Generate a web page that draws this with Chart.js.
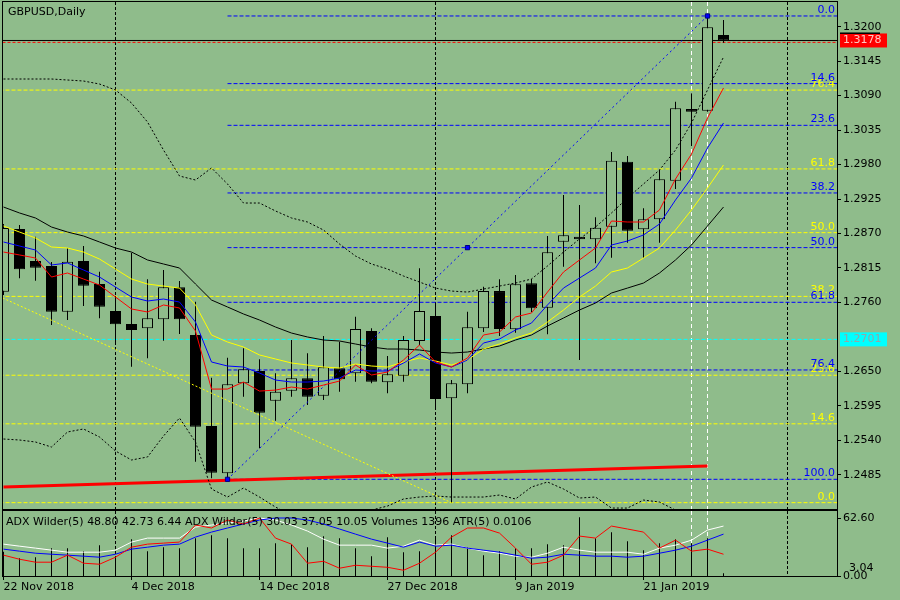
<!DOCTYPE html>
<html>
<head>
<meta charset="utf-8">
<script src="https://cdn.jsdelivr.net/npm/chart.js@4.4.1/dist/chart.umd.min.js"></script>
<style>
  html, body { margin: 0; padding: 0; background: #8fbc8b; overflow: hidden; }
  #main { position: absolute; left: 0; top: 0; }
  #sub { position: absolute; left: 0; top: 510px; }
</style>
</head>
<body>
<canvas id="main" width="900" height="510"></canvas>
<canvas id="sub" width="900" height="90"></canvas>
<script>
const BG = '#8fbc8b';

// daily bars, 22 Nov 2018 (bar 0) .. 28 Jan 2019 (bar 45)
const candleOpen = [1.27771, 1.28771, 1.28261, 1.28181, 1.27452, 1.28261, 1.27893, 1.27463, 1.27255, 1.27186,
  1.27330, 1.27841, 1.27080, 1.25628, 1.24873, 1.26308, 1.26505, 1.26031, 1.26190, 1.26388,
  1.26111, 1.26548, 1.26469, 1.27143, 1.26324, 1.26430, 1.26984, 1.27383, 1.26069, 1.26292,
  1.27186, 1.27781, 1.27170, 1.27905, 1.27516, 1.28569, 1.28649, 1.28607, 1.28808, 1.29845,
  1.28766, 1.28926, 1.29542, 1.30686, 1.30659, 1.31867];
const candleHigh = [1.28850, 1.28835, 1.28649, 1.28245, 1.28463, 1.28500, 1.28091, 1.27702, 1.28393, 1.27968,
  1.28117, 1.27941, 1.27611, 1.26398, 1.26718, 1.26868, 1.26692, 1.26469, 1.27000, 1.26787,
  1.27064, 1.26973, 1.27372, 1.27186, 1.26745, 1.27064, 1.28144, 1.27590, 1.26361, 1.27452,
  1.27850, 1.27968, 1.28037, 1.27973, 1.28660, 1.29314, 1.29154, 1.28958, 1.30000, 1.29936,
  1.29102, 1.29713, 1.30803, 1.30937, 1.32171, 1.32107];
const candleLow = [1.27720, 1.27985, 1.27946, 1.27239, 1.27319, 1.27543, 1.27346, 1.26968, 1.26574, 1.26708,
  1.26989, 1.27095, 1.25058, 1.24793, 1.24777, 1.26095, 1.25272, 1.25712, 1.26095, 1.25963,
  1.26042, 1.26174, 1.26334, 1.26308, 1.26149, 1.26334, 1.26920, 1.25883, 1.24404, 1.26149,
  1.27127, 1.27064, 1.27116, 1.27447, 1.27091, 1.28170, 1.26681, 1.28224, 1.28313, 1.28553,
  1.28313, 1.28553, 1.29410, 1.30096, 1.30643, 1.31745];
const candleClose = [1.28787, 1.28128, 1.28154, 1.27452, 1.28250, 1.27866, 1.27531, 1.27250, 1.27159, 1.27346,
  1.27841, 1.27330, 1.25617, 1.24882, 1.26292, 1.26532, 1.25840, 1.26174, 1.26388, 1.26095,
  1.26565, 1.26372, 1.27175, 1.26334, 1.26453, 1.27000, 1.27463, 1.26058, 1.26308, 1.27202,
  1.27781, 1.27175, 1.27889, 1.27506, 1.28400, 1.28671, 1.28607, 1.28792, 1.29861, 1.28744,
  1.28926, 1.29565, 1.30698, 1.30643, 1.31990, 1.31780];

// moving averages
const maRed = [1.28404, 1.28357, 1.28308, 1.28005, 1.28069, 1.27973, 1.27877, 1.27686, 1.27495, 1.27447,
  1.27559, 1.27511, 1.27143, 1.26217, 1.26217, 1.26329, 1.26185, 1.26201, 1.26249, 1.26217,
  1.26281, 1.26345, 1.26601, 1.26441, 1.26489, 1.26681, 1.26920, 1.26649, 1.26569, 1.26713,
  1.27080, 1.27127, 1.27367, 1.27431, 1.27765, 1.28085, 1.28277, 1.28468, 1.28899, 1.28883,
  1.28883, 1.29075, 1.29569, 1.29968, 1.30543, 1.31022];
const maBlue = [1.28564, 1.28500, 1.28436, 1.28197, 1.28229, 1.28117, 1.28005, 1.27845, 1.27686, 1.27622,
  1.27654, 1.27606, 1.27287, 1.26649, 1.26585, 1.26569, 1.26473, 1.26361, 1.26329, 1.26329,
  1.26345, 1.26393, 1.26521, 1.26505, 1.26505, 1.26633, 1.26777, 1.26633, 1.26569, 1.26681,
  1.26952, 1.27016, 1.27159, 1.27271, 1.27559, 1.27829, 1.27989, 1.28149, 1.28516, 1.28580,
  1.28676, 1.28851, 1.29234, 1.29585, 1.30064, 1.30463];
const maYellow = [1.28819, 1.28723, 1.28628, 1.28484, 1.28468, 1.28404, 1.28292, 1.28133, 1.27973, 1.27893,
  1.27861, 1.27829, 1.27559, 1.27080, 1.26968, 1.26888, 1.26761, 1.26697, 1.26633, 1.26601,
  1.26569, 1.26553, 1.26617, 1.26585, 1.26569, 1.26649, 1.26713, 1.26665, 1.26601, 1.26681,
  1.26856, 1.26936, 1.27032, 1.27111, 1.27287, 1.27479, 1.27686, 1.27861, 1.28085, 1.28149,
  1.28308, 1.28468, 1.28755, 1.29075, 1.29426, 1.29793];
const bandMiddle = [1.29122, 1.29027, 1.28947, 1.28803, 1.28723, 1.28660, 1.28564, 1.28468, 1.28404, 1.28277,
  1.28213, 1.28149, 1.27893, 1.27638, 1.27527, 1.27415, 1.27319, 1.27207, 1.27111, 1.27048,
  1.27000, 1.26984, 1.26936, 1.26888, 1.26856, 1.26856, 1.26840, 1.26808, 1.26792, 1.26808,
  1.26856, 1.26904, 1.27000, 1.27080, 1.27223, 1.27351, 1.27479, 1.27590, 1.27750, 1.27829,
  1.27909, 1.28069, 1.28277, 1.28516, 1.28819, 1.29122];
const bandUpper = [1.31165, 1.31165, 1.31165, 1.31165, 1.31149, 1.31133, 1.31085, 1.30990, 1.30782, 1.30479,
  1.30032, 1.29617, 1.29553, 1.29745, 1.29490, 1.29186, 1.29186, 1.29059, 1.28947, 1.28883,
  1.28755, 1.28532, 1.28340, 1.28213, 1.28133, 1.28021, 1.27925, 1.27829, 1.27781, 1.27765,
  1.27813, 1.27861, 1.27909, 1.27973, 1.28181, 1.28404, 1.28612, 1.28803, 1.29027, 1.29266,
  1.29490, 1.29713, 1.30032, 1.30463, 1.30990, 1.31516];
const bandLower = [1.25420, 1.25404, 1.25372, 1.25292, 1.25532, 1.25580, 1.25452, 1.25229, 1.25085, 1.25133,
  1.25468, 1.25755, 1.25372, 1.24622, 1.24494, 1.24638, 1.24494, 1.24334, 1.24207, 1.24127,
  1.24095, 1.24127, 1.24207, 1.24286, 1.24350, 1.24463, 1.24494, 1.24510, 1.24494, 1.24494,
  1.24494, 1.24526, 1.24463, 1.24654, 1.24734, 1.24622, 1.24478, 1.24494, 1.24318, 1.24318,
  1.24446, 1.24414, 1.24286, 1.24191, 1.24095, 1.24000];

// sub window
const adxWhite = [34.4, 32.2, 30.1, 27.9, 25.7, 25.7, 25.7, 27.9, 36.6, 40.9,
  40.9, 40.9, 52.8, 55.0, 57.2, 59.3, 62.6, 60.4, 55.0, 48.5,
  39.8, 33.3, 33.3, 33.3, 30.1, 32.2, 38.7, 33.3, 34.4, 30.1,
  26.8, 24.6, 21.4, 20.3, 24.6, 31.1, 27.9, 25.7, 25.7, 25.7,
  23.5, 30.1, 33.3, 38.7, 49.6, 53.9];
const adxBlue = [29.0, 26.8, 24.6, 23.5, 22.5, 21.4, 20.3, 23.5, 29.0, 31.1,
  33.3, 34.4, 42.0, 47.4, 51.8, 56.1, 60.4, 62.6, 62.6, 60.4,
  56.1, 50.7, 45.2, 39.8, 35.5, 31.1, 36.6, 32.2, 33.3, 30.1,
  27.9, 25.7, 22.5, 19.2, 20.3, 23.5, 22.5, 21.4, 21.4, 20.3,
  21.4, 24.6, 27.9, 32.2, 38.7, 45.2];
const adxRed = [22.5, 18.1, 14.9, 14.9, 22.5, 13.8, 12.7, 20.3, 31.1, 34.4,
  35.5, 36.6, 55.0, 51.8, 60.4, 56.1, 62.6, 40.9, 34.4, 13.8,
  15.9, 8.4, 11.6, 10.5, 9.4, 6.2, 13.8, 25.7, 42.0, 51.8,
  51.8, 46.3, 30.1, 12.7, 14.9, 22.5, 43.1, 40.9, 53.9, 50.7,
  47.4, 30.1, 38.7, 26.8, 29.0, 23.5];
const volumes = [12500, 9150, 9670, 14320, 14320, 12770, 15870, 9670, 18970, 12770,
  14840, 14320, 19490, 21040, 19490, 14320, 14320, 16910, 16390, 14840,
  20520, 19490, 14320, 10180, 20010, 12250, 12770, 19490, 21040, 14840,
  10700, 12770, 14320, 14320, 16390, 15870, 30350, 19490, 22590, 17940,
  13290, 16910, 18970, 16910, 19490, 1396];

// axes
const priceTicks = [1.3200, 1.3145, 1.3090, 1.3035, 1.2980, 1.2925, 1.2870, 1.2815, 1.2760,
  1.2650, 1.2595, 1.2540, 1.2485];
const dateTickBars = [0, 8, 16, 24, 32, 40];
const dateLabels = ['22 Nov 2018', '4 Dec 2018', '14 Dec 2018', '27 Dec 2018', '9 Jan 2019', '21 Jan 2019'];
const monthStartBars = [7, 27, 49];
const markerBars = [43, 44];

// objects
const fibLevels = [0, 14.6, 23.6, 38.2, 50, 61.8, 76.4, 100];
const blueFibLowBar = 14, blueFibLow = 1.24777;
const blueFibHighBar = 44, blueFibHigh = 1.32171;
const yellowFibTopBar = -46, yellowFibTop = 1.33022;
const yellowFibBottomBar = 28, yellowFibBottom = 1.24404;
const redLineBars = [0, 44];
const redLinePrices = [1.24654, 1.24989];
const bidPrice = 1.3178;
const redDashPrice = 1.3175;
const cyanPrice = 1.2701;

const subTitle = 'ADX Wilder(5) 48.80 42.73 6.44 ADX Wilder(5) 30.03 37.05 10.05 Volumes 1396 ATR(5) 0.0106';

const blueFibPrices = fibLevels.map(l => blueFibHigh - l / 100 * (blueFibHigh - blueFibLow));
const yellowFibPrices = fibLevels.map(l => yellowFibBottom + l / 100 * (yellowFibTop - yellowFibBottom));

const xMin = -0.03125, xMax = 52.09375, farRight = 60;
const pts = arr => arr.map((v, i) => ({x: i, y: v}));

Chart.defaults.font.family = "'DejaVu Sans', sans-serif";
Chart.defaults.font.size = 11;
Chart.defaults.color = '#000';

function line(data, color, extra) {
  return Object.assign({type: 'line', data: data, borderColor: color, borderWidth: 1,
    pointRadius: 0, pointHoverRadius: 0, fill: false, tension: 0, order: 1}, extra || {});
}
function hline(price, fromBar, color, dash) {
  return line([{x: fromBar, y: price}, {x: farRight, y: price}], color, {borderDash: dash, order: 20});
}
// keep the plot area exactly where the layout padding puts it
function noEdgePadding(ax) {
  ax.paddingTop = 0; ax.paddingBottom = 0; ax.paddingLeft = 0; ax.paddingRight = 0;
}

const mainDatasets = [
  line(pts(maRed), '#ff0000'),
  line(pts(maBlue), '#0000ff'),
  line(pts(maYellow), '#ffff00'),
  line(pts(bandMiddle), '#000000'),
  line(pts(bandUpper), '#000000', {borderDash: [2, 2], order: 3}),
  line(pts(bandLower), '#000000', {borderDash: [2, 2], order: 3}),
  line([{x: blueFibLowBar, y: blueFibLow}, {x: blueFibHighBar, y: blueFibHigh}], '#0000ff', {borderDash: [2, 3], order: 2}),
  line([{x: yellowFibTopBar, y: yellowFibTop}, {x: yellowFibBottomBar, y: yellowFibBottom}], '#ffff00', {borderDash: [2, 2], order: 2}),
  {
    type: 'line', showLine: false, order: 0,
    data: [{x: blueFibLowBar, y: blueFibLow},
      {x: (blueFibLowBar + blueFibHighBar) / 2, y: (blueFibLow + blueFibHigh) / 2},
      {x: blueFibHighBar, y: blueFibHigh}],
    pointStyle: 'rect', pointRadius: 3, pointHoverRadius: 3,
    pointBackgroundColor: '#0000ff', pointBorderColor: '#000080', pointBorderWidth: 1
  },
  {
    type: 'bar', order: 10, grouped: false, barPercentage: 1, categoryPercentage: 1, maxBarThickness: 11,
    data: candleOpen.map((o, i) => ({x: i, y: [o, candleClose[i]]})),
    backgroundColor: candleOpen.map((o, i) => candleClose[i] >= o ? BG : '#000000'),
    borderColor: '#000000', borderWidth: 1, borderSkipped: false, inflateAmount: 0
  },
  {
    type: 'bar', order: 11, grouped: false, barPercentage: 1, categoryPercentage: 1, maxBarThickness: 1,
    data: candleLow.map((l, i) => ({x: i, y: [l, candleHigh[i]]})),
    backgroundColor: '#000000', borderWidth: 0, inflateAmount: 0
  },
  line(redLineBars.map((b, i) => ({x: b, y: redLinePrices[i]})), '#ff0000', {borderWidth: 3, order: 15}),
  hline(bidPrice, -1, '#000000', []),
  hline(redDashPrice, -1, '#ff0000', [3, 2]),
  hline(cyanPrice, -1, '#00ffff', [4, 2])
];
blueFibPrices.forEach(p => mainDatasets.push(hline(p, blueFibLowBar, '#0000ff', [4, 2])));
yellowFibPrices.forEach(p => mainDatasets.push(hline(p, yellowFibTopBar, '#ffff00', [4, 2])));

function drawVLines(chart) {
  const {ctx, chartArea: a, scales: {x}} = chart;
  ctx.save();
  ctx.lineWidth = 1;
  ctx.strokeStyle = '#000000';
  ctx.setLineDash([3, 2]);
  monthStartBars.forEach(b => {
    const px = x.getPixelForValue(b);
    ctx.beginPath(); ctx.moveTo(px, a.top); ctx.lineTo(px, a.bottom); ctx.stroke();
  });
  ctx.strokeStyle = '#ffffff';
  ctx.setLineDash([4, 3]);
  markerBars.forEach(b => {
    const px = x.getPixelForValue(b);
    ctx.beginPath(); ctx.moveTo(px, a.top); ctx.lineTo(px, a.bottom); ctx.stroke();
  });
  ctx.restore();
}
function drawFrame(chart) {
  const {ctx, chartArea: a} = chart;
  ctx.save();
  ctx.strokeStyle = '#000000';
  ctx.lineWidth = 1;
  ctx.strokeRect(a.left - 0.5, a.top - 0.5, a.right - a.left + 1, a.bottom - a.top + 1);
  ctx.restore();
}

const mainDecor = {
  id: 'mainDecor',
  beforeDatasetsDraw: drawVLines,
  afterDatasetsDraw(chart) {
    const {ctx, chartArea: a, scales: {y}} = chart;
    ctx.save();
    ctx.font = "11px 'DejaVu Sans'";
    ctx.textAlign = 'right';
    ctx.textBaseline = 'alphabetic';
    const labels = (prices, color) => {
      ctx.fillStyle = color;
      prices.forEach((p, i) => {
        const py = y.getPixelForValue(p);
        if (py < a.top + 8 || py > a.bottom) return;
        ctx.fillText(fibLevels[i].toFixed(1), a.right - 2, py - 3);
      });
    };
    labels(yellowFibPrices, '#ffff00');
    labels(blueFibPrices, '#0000ff');
    ctx.textAlign = 'left';
    ctx.textBaseline = 'middle';
    ctx.fillStyle = '#000000';
    ctx.fillText('GBPUSD,Daily', 8, 12);
    ctx.restore();
    drawFrame(chart);
  },
  afterDraw(chart) {
    const {ctx, chartArea: a, scales: {y}} = chart;
    ctx.save();
    ctx.font = "11px 'DejaVu Sans'";
    ctx.textBaseline = 'middle';
    ctx.textAlign = 'left';
    const yb = y.getPixelForValue(bidPrice);
    ctx.fillStyle = '#ff0000';
    ctx.fillRect(a.right + 3, yb - 7, 47, 14);
    ctx.fillStyle = '#000000';
    ctx.fillRect(a.right + 3, yb - 8, 40, 1.5);
    ctx.fillStyle = '#ffc8c0';
    ctx.fillText(bidPrice.toFixed(4), a.right + 6, yb);
    const yc = y.getPixelForValue(cyanPrice);
    ctx.fillStyle = '#00ffff';
    ctx.fillRect(a.right + 3, yc - 7, 47, 14);
    ctx.fillStyle = '#90a8a8';
    ctx.fillText(cyanPrice.toFixed(4), a.right + 6, yc);
    ctx.restore();
  }
};

new Chart(document.getElementById('main'), {
  type: 'bar',
  data: {datasets: mainDatasets},
  options: {
    responsive: false,
    devicePixelRatio: 1,
    animation: false,
    events: [],
    layout: {autoPadding: false, padding: {left: 3, top: 2, right: 0, bottom: 1}},
    plugins: {legend: {display: false}, tooltip: {enabled: false}},
    scales: {
      x: {type: 'linear', min: xMin, max: xMax, display: false, offset: false, grid: {offset: false}},
      y: {
        position: 'right', min: 1.24303, max: 1.32394,
        afterBuildTicks: ax => { ax.ticks = priceTicks.map(v => ({value: v})); },
        afterFit: ax => { ax.width = 63; noEdgePadding(ax); },
        ticks: {callback: v => v.toFixed(4), padding: 2, autoSkip: false, color: '#000000'},
        grid: {drawOnChartArea: false, tickLength: 4, color: '#000000'},
        border: {color: '#000000'}
      }
    }
  },
  plugins: [mainDecor]
});

const subDecor = {
  id: 'subDecor',
  beforeDatasetsDraw: drawVLines,
  afterDatasetsDraw(chart) {
    const {ctx, chartArea: a} = chart;
    ctx.save();
    ctx.font = "11px 'DejaVu Sans'";
    ctx.textBaseline = 'middle';
    ctx.textAlign = 'left';
    ctx.fillStyle = '#000000';
    ctx.fillText(subTitle, 6, a.top + 11);
    ctx.fillText('3.04', a.right + 12, a.bottom - 8);
    ctx.restore();
    drawFrame(chart);
  }
};

new Chart(document.getElementById('sub'), {
  type: 'bar',
  data: {
    datasets: [
      line(pts(adxRed), '#ff0000', {order: 0}),
      line(pts(adxBlue), '#0000ff', {order: 1}),
      line(pts(adxWhite), '#ffffff', {order: 2}),
      {
        type: 'bar', order: 5, yAxisID: 'yv', grouped: false, barPercentage: 1, categoryPercentage: 1,
        maxBarThickness: 1, data: pts(volumes), backgroundColor: '#000000', borderWidth: 0, inflateAmount: 0
      }
    ]
  },
  options: {
    responsive: false,
    devicePixelRatio: 1,
    animation: false,
    events: [],
    layout: {autoPadding: false, padding: {left: 3, top: 1, right: 0, bottom: 0}},
    plugins: {legend: {display: false}, tooltip: {enabled: false}},
    scales: {
      x: {
        type: 'linear', min: xMin, max: xMax, offset: false,
        afterBuildTicks: ax => { ax.ticks = dateTickBars.map(v => ({value: v})); },
        afterFit: ax => { ax.height = 24; noEdgePadding(ax); },
        ticks: {
          callback: v => dateLabels[dateTickBars.indexOf(v)],
          align: 'start', maxRotation: 0, minRotation: 0, autoSkip: false, padding: 1, color: '#000000'
        },
        grid: {drawOnChartArea: false, tickLength: 4, color: '#000000', offset: false},
        border: {color: '#000000'}
      },
      y: {
        position: 'right', min: 0, max: 70.16,
        afterBuildTicks: ax => { ax.ticks = [0, 62.6].map(v => ({value: v})); },
        afterFit: ax => { ax.width = 63; noEdgePadding(ax); },
        ticks: {callback: v => v.toFixed(2), padding: 2, autoSkip: false, color: '#000000'},
        grid: {drawOnChartArea: false, tickLength: 4, color: '#000000'},
        border: {color: '#000000'}
      },
      yv: {display: false, min: 0, max: 33600}
    }
  },
  plugins: [subDecor]
});
</script>
</body>
</html>
